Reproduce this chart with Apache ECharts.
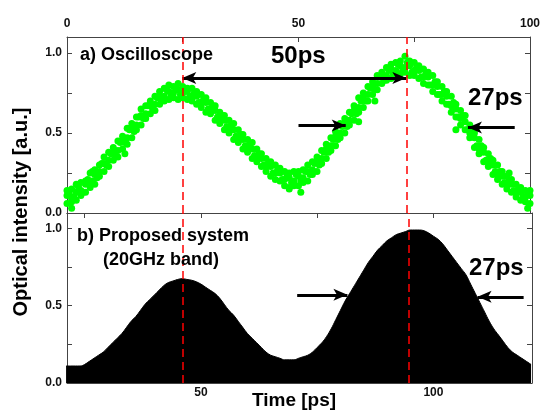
<!DOCTYPE html>
<html>
<head>
<meta charset="utf-8">
<script src="https://cdn.jsdelivr.net/npm/echarts@6/dist/echarts.min.js"></script>
<style>
html, body { margin: 0; padding: 0; background: #fff; }
#main { width: 543px; height: 412px; }
</style>
</head>
<body>
<div id="main"></div>
<script>
// a) oscilloscope trace, time [ps] on the top axis
var oscTime = [0,1,2,3,4,5,6,7,8,9,10,11,12,13,14,15,16,17,18,19,20,21,22,23,24,25,26,27,28,29,30,31,32,33,34,35,36,37,38,39,40,41,42,43,44,45,46,47,48,49,50,
  51,52,53,54,55,56,57,58,59,60,61,62,63,64,65,66,67,68,69,70,71,72,73,74,75,76,77,78,79,80,81,82,83,84,85,86,87,88,89,90,91,92,93,94,95,96,97,98,99,100];
var oscUpper = [.14,.15,.18,.19,.20,.25,.27,.30,.35,.38,.41,.45,.48,.53,.56,.60,.65,.67,.70,.73,.76,.78,.80,.79,.81,.79,.78,.78,.76,.74,.72,.69,.67,.63,.61,.58,.56,.52,.49,.46,.44,.40,.37,.34,.32,.30,.28,.26,.25,.26,.26,
  .27,.30,.32,.35,.39,.43,.47,.51,.56,.59,.63,.67,.72,.75,.79,.82,.86,.88,.91,.93,.94,.95,.98,.95,.94,.92,.90,.88,.86,.82,.79,.76,.73,.68,.64,.61,.55,.50,.46,.41,.37,.33,.30,.26,.23,.21,.18,.16,.14,.14];
var oscMid = [.11,.09,.13,.14,.18,.19,.24,.26,.31,.33,.38,.39,.45,.47,.53,.55,.61,.62,.67,.68,.73,.73,.76,.75,.77,.75,.76,.73,.73,.69,.69,.65,.64,.59,.58,.53,.52,.47,.46,.41,.40,.35,.34,.29,.29,.25,.25,.21,.22,.20,.23,
  .22,.26,.27,.32,.34,.40,.42,.48,.50,.56,.58,.64,.66,.72,.74,.79,.81,.86,.86,.90,.89,.92,.91,.92,.89,.89,.85,.85,.80,.79,.74,.73,.67,.65,.59,.57,.50,.47,.40,.38,.32,.30,.24,.23,.18,.18,.13,.13,.10,.11];
var oscLower = [.06,.07,.08,.11,.13,.16,.18,.23,.26,.29,.33,.35,.40,.43,.47,.52,.55,.59,.62,.64,.68,.70,.71,.72,.71,.72,.71,.70,.68,.66,.63,.62,.58,.56,.52,.50,.46,.44,.40,.38,.34,.32,.29,.26,.23,.21,.20,.17,.16,.17,.17,
  .19,.20,.24,.26,.31,.34,.39,.42,.47,.50,.55,.58,.63,.66,.70,.74,.77,.81,.83,.84,.86,.87,.88,.86,.86,.84,.81,.80,.76,.74,.70,.68,.63,.60,.55,.52,.47,.41,.37,.32,.29,.24,.21,.18,.15,.13,.10,.08,.07,.06];
// samples between the whole-ps ones
var oscHalfTime = [0.5,1.5,2.5,3.5,4.5,5.5,6.5,7.5,8.5,9.5,10.5,11.5,12.5,13.5,14.5,15.5,16.5,17.5,18.5,19.5,20.5,21.5,22.5,23.5,24.5,25.5,26.5,27.5,28.5,29.5,30.5,31.5,32.5,33.5,34.5,35.5,36.5,37.5,38.5,39.5,40.5,41.5,42.5,43.5,44.5,45.5,46.5,47.5,48.5,49.5,
  50.5,51.5,52.5,53.5,54.5,55.5,56.5,57.5,58.5,59.5,60.5,61.5,62.5,63.5,64.5,65.5,66.5,67.5,68.5,69.5,70.5,71.5,72.5,73.5,74.5,75.5,76.5,77.5,78.5,79.5,80.5,81.5,82.5,83.5,84.5,85.5,86.5,87.5,88.5,89.5,90.5,91.5,92.5,93.5,94.5,95.5,96.5,97.5,98.5,99.5];
var oscHalf = [.12,.10,.16,.13,.21,.20,.22,.31,.30,.37,.36,.44,.44,.52,.51,.60,.59,.67,.65,.72,.71,.77,.73,.78,.74,.77,.73,.75,.69,.71,.65,.67,.60,.61,.54,.55,.48,.49,.42,.43,.36,.37,.30,.31,.25,.27,.21,.24,.19,.24,
  .20,.26,.24,.31,.30,.38,.38,.46,.46,.54,.54,.62,.62,.70,.70,.78,.77,.85,.83,.89,.87,.93,.89,.94,.88,.91,.85,.87,.80,.82,.74,.76,.68,.69,.60,.61,.52,.52,.42,.42,.33,.34,.26,.26,.19,.20,.14,.15,.10,.12];
var oscStrayTime = [1, 5.5, 12.5, 48, 50.5, 63, 66.5, 84, 95.5, 99.5];
var oscStrayValue = [.03, .26, .37, .15, .13, .57, .70, .52, .25, .03];

// b) proposed system, envelope of the filled trace, time [ps] on the bottom axis
var simTime = [21,22,23,24,25,26,27,28,29,30,31,32,33,34,35,36,37,38,39,40,41,42,43,44,45,46,47,48,49,50,51,52,53,54,55,56,57,58,59,60,61,62,63,64,65,66,67,68,69,70,71,
  72,73,74,75,76,77,78,79,80,81,82,83,84,85,86,87,88,89,90,91,92,93,94,95,96,97,98,99,100,101,102,103,104,105,106,107,108,109,110,111,112,113,114,115,116,117,118,119,120,121];
var simValue = [.11,.11,.11,.11,.12,.14,.16,.18,.20,.23,.26,.29,.32,.36,.40,.43,.47,.51,.54,.57,.60,.63,.65,.66,.67,.675,.67,.665,.655,.64,.62,.60,.58,.55,.51,.47,.44,.40,.36,.32,.29,.26,.23,.20,.18,.17,.16,.15,.15,.15,.16,
  .17,.18,.20,.23,.26,.30,.35,.41,.47,.53,.58,.63,.68,.73,.78,.82,.86,.89,.92,.94,.96,.97,.98,.99,.99,.99,.985,.97,.95,.93,.90,.86,.82,.78,.74,.70,.64,.58,.52,.46,.40,.35,.31,.27,.23,.20,.18,.16,.14,.12];

// peak markers (red dashed) and tick positions
var peakTop = [24.9, 73.3];
var peakBottom = [46.05, 94.7];
var topTicks = [0, 25, 50, 75, 100];
var topLabels = [0, 50, 100];
var bottomTicks = [25, 50, 75, 100];
var bottomLabels = [50, 100];
var yTicks = [0, 0.25, 0.5, 0.75, 1];
var yLabels = [0, 0.5, 1];

var oscData = [];
oscTime.forEach(function (t, i) {
  oscData.push([t, oscUpper[i]]);
  oscData.push([t, oscMid[i]]);
  oscData.push([t, oscLower[i]]);
});
oscHalfTime.forEach(function (t, i) { oscData.push([t, oscHalf[i]]); });
oscStrayTime.forEach(function (t, i) { oscData.push([t, oscStrayValue[i]]); });
var simData = simTime.map(function (t, i) { return [t, simValue[i]]; });

var FONT = 'Arial, "Liberation Sans", sans-serif';
var frame = { show: true, onZero: false, lineStyle: { color: '#444', width: 1 } };
var lbl = { fontFamily: FONT, fontWeight: 'bold', fontSize: 12, color: '#111' };

function xAx(grid, pos, min, max, ticks, labels) {
  return {
    type: 'value', gridIndex: grid, position: pos, min: min, max: max,
    axisLine: frame, splitLine: { show: false },
    axisTick: ticks ? { show: true, inside: true, length: 5, customValues: ticks, lineStyle: { color: '#444' } } : { show: false },
    axisLabel: labels ? Object.assign({ show: true, margin: pos === 'top' ? 7 : 4, customValues: labels }, lbl) : { show: false }
  };
}
function yAx(grid, pos, labels) {
  return {
    type: 'value', gridIndex: grid, position: pos, min: 0, max: 1.1,
    axisLine: frame, splitLine: { show: false },
    axisTick: { show: true, inside: true, length: 5, customValues: yTicks, lineStyle: { color: '#444' } },
    axisLabel: labels ? Object.assign({ show: true, margin: 5, customValues: yLabels, formatter: function (v) { return v.toFixed(1); } }, lbl) : { show: false }
  };
}

var redLine = {
  silent: true, symbol: 'none', label: { show: false },
  lineStyle: { color: 'rgba(255,0,0,0.75)', width: 2, type: [8, 5] }
};
var arrowStyle = { color: '#000', width: 3, type: 'solid' };

var myChart = echarts.init(document.getElementById('main'));
myChart.setOption({
  animation: false,
  backgroundColor: '#fff',
  grid: [
    { left: 67, right: 11, top: 37, height: 176 },
    { left: 67, right: 11, top: 213, height: 170 }
  ],
  xAxis: [
    xAx(0, 'top', 0, 100, topTicks, topLabels),
    xAx(0, 'bottom', 0, 100, null, null),
    xAx(1, 'bottom', 21.2, 121.2, bottomTicks, bottomLabels),
    xAx(1, 'top', 21.2, 121.2, bottomTicks, null)
  ],
  yAxis: [
    yAx(0, 'left', true),
    yAx(0, 'right', false),
    yAx(1, 'left', true),
    yAx(1, 'right', false)
  ],
  series: [
    {
      type: 'scatter', xAxisIndex: 0, yAxisIndex: 0, data: oscData,
      symbolSize: 7, itemStyle: { color: '#00ff00', opacity: 1 }, z: 2
    },
    {
      type: 'line', xAxisIndex: 2, yAxisIndex: 2, data: simData,
      symbol: 'none', smooth: 0.4, lineStyle: { color: '#000', width: 1 },
      areaStyle: { color: '#000', opacity: 1 }, z: 2
    },
    {
      // top annotations
      type: 'line', xAxisIndex: 0, yAxisIndex: 0, data: [], z: 5,
      markLine: {
        silent: true, symbol: ['none', 'arrow'], symbolSize: [9, 14], label: { show: false },
        lineStyle: arrowStyle,
        data: [
          [{ coord: [peakTop[0], 0.843], symbol: 'arrow' }, { coord: [peakTop[1], 0.843] }],
          [{ coord: [50, 0.547] }, { coord: [60.2, 0.547] }],
          [{ coord: [96.7, 0.534] }, { coord: [86.6, 0.534] }]
        ]
      }
    },
    {
      // bottom annotations
      type: 'line', xAxisIndex: 2, yAxisIndex: 2, data: [], z: 5,
      markLine: {
        silent: true, symbol: ['none', 'arrow'], symbolSize: [9, 14], label: { show: false },
        lineStyle: arrowStyle,
        data: [
          [{ coord: [70.7, 0.571] }, { coord: [81.5, 0.571] }],
          [{ coord: [119.4, 0.558] }, { coord: [109.5, 0.558] }]
        ]
      }
    },
    {
      type: 'line', xAxisIndex: 0, yAxisIndex: 0, data: [], z: 6,
      markLine: Object.assign({ data: peakTop.map(function (p) { return { xAxis: p }; }) }, redLine)
    },
    {
      type: 'line', xAxisIndex: 2, yAxisIndex: 2, data: [], z: 6,
      markLine: Object.assign({ data: peakBottom.map(function (p) { return { xAxis: p }; }) }, redLine)
    }
  ],
  graphic: [
    { type: 'text', left: 80, top: 46, z: 10, style: { text: 'a) Oscilloscope', font: 'bold 18px ' + FONT, fill: '#000' } },
    { type: 'text', left: 271, top: 44, z: 10, style: { text: '50ps', font: 'bold 24px ' + FONT, fill: '#000' } },
    { type: 'text', left: 468, top: 86, z: 10, style: { text: '27ps', font: 'bold 24px ' + FONT, fill: '#000' } },
    { type: 'text', left: 77, top: 227, z: 10, style: { text: 'b) Proposed system', font: 'bold 18px ' + FONT, fill: '#000' } },
    { type: 'text', left: 103, top: 251, z: 10, style: { text: '(20GHz band)', font: 'bold 18px ' + FONT, fill: '#000' } },
    { type: 'text', left: 469, top: 256, z: 10, style: { text: '27ps', font: 'bold 24px ' + FONT, fill: '#000' } },
    {
      type: 'text', x: 21, y: 212, rotation: Math.PI / 2, z: 10,
      style: { text: 'Optical intensity [a.u.]', font: 'bold 20px ' + FONT, fill: '#000', align: 'center', verticalAlign: 'middle', textAlign: 'center', textVerticalAlign: 'middle' }
    },
    {
      type: 'text', x: 294, y: 401, z: 10,
      style: { text: 'Time [ps]', font: 'bold 19px ' + FONT, fill: '#000', align: 'center', verticalAlign: 'middle', textAlign: 'center', textVerticalAlign: 'middle' }
    }
  ]
});
</script>
</body>
</html>
